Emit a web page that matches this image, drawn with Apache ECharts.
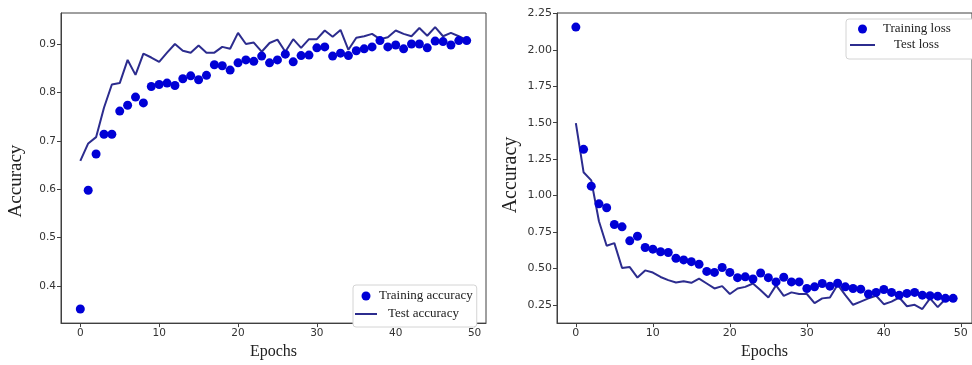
<!DOCTYPE html>
<html>
<head>
<meta charset="utf-8">
<script src="https://cdn.jsdelivr.net/npm/echarts@6/dist/echarts.min.js"></script>
<style>
html,body{margin:0;padding:0;background:#fff;}
#chart{width:972px;height:365px;}
</style>
</head>
<body>
<div id="chart"></div>
<script>
const epochs = [0,1,2,3,4,5,6,7,8,9,10,11,12,13,14,15,16,17,18,19,20,21,22,23,24,25,26,27,28,29,30,31,32,33,34,35,36,37,38,39,40,41,42,43,44,45,46,47,48,49];
const trainAcc = [0.352,0.598,0.673,0.714,0.714,0.762,0.774,0.791,0.779,0.813,0.817,0.820,0.815,0.829,0.835,0.827,0.836,0.858,0.856,0.847,0.862,0.868,0.865,0.876,0.862,0.868,0.880,0.864,0.877,0.878,0.893,0.895,0.876,0.882,0.877,0.887,0.891,0.895,0.908,0.895,0.899,0.891,0.901,0.901,0.893,0.907,0.906,0.899,0.908,0.908];
const testAcc = [0.659,0.695,0.708,0.769,0.817,0.820,0.868,0.837,0.881,0.873,0.864,0.883,0.901,0.887,0.883,0.898,0.883,0.883,0.895,0.891,0.924,0.901,0.904,0.885,0.903,0.910,0.885,0.911,0.893,0.911,0.911,0.929,0.916,0.930,0.889,0.914,0.917,0.922,0.911,0.915,0.929,0.922,0.917,0.934,0.918,0.936,0.917,0.924,0.917,0.909];
const trainLoss = [2.156,1.317,1.064,0.943,0.916,0.801,0.785,0.689,0.720,0.643,0.632,0.614,0.609,0.569,0.558,0.546,0.528,0.479,0.472,0.506,0.472,0.436,0.442,0.427,0.468,0.436,0.407,0.439,0.407,0.407,0.362,0.373,0.396,0.378,0.398,0.373,0.362,0.357,0.324,0.335,0.355,0.335,0.316,0.328,0.335,0.316,0.312,0.309,0.294,0.294];
const testLoss = [1.497,1.160,1.104,0.823,0.655,0.673,0.502,0.509,0.437,0.486,0.471,0.441,0.419,0.403,0.412,0.401,0.430,0.396,0.362,0.378,0.324,0.362,0.373,0.396,0.350,0.300,0.383,0.311,0.335,0.324,0.324,0.261,0.294,0.300,0.388,0.316,0.250,0.272,0.294,0.312,0.254,0.272,0.300,0.240,0.250,0.221,0.294,0.234,0.290,0.280];
const xTicks = [0,10,20,30,40,50];
const accTicks = [0.4,0.5,0.6,0.7,0.8,0.9];
const lossTicks = [0.25,0.5,0.75,1.0,1.25,1.5,1.75,2.0,2.25];

function pairs(xs, ys){ return xs.map((x,i)=>[x, ys[i]]); }
function extent(arrs){
  let mn = Infinity, mx = -Infinity;
  arrs.forEach(a=>a.forEach(v=>{ if(v<mn)mn=v; if(v>mx)mx=v; }));
  const m = (mx-mn)*0.05;
  return [mn-m, mx+m];
}
const xMin = epochs[0] - (epochs[epochs.length-1]-epochs[0])*0.05;
const xMax = epochs[epochs.length-1] + (epochs[epochs.length-1]-epochs[0])*0.05;
const accExt = extent([trainAcc, testAcc]);
const lossExt = extent([trainLoss, testLoss]);

const DOT = '#0000d6';
const LINE = '#2c2c8e';
const FRAME = '#404040';
const SERIF = '"Liberation Serif","DejaVu Serif",serif';
const SANS = '"DejaVu Sans",sans-serif';
const LINE_ICON = 'path://M0,0H22V2H0Z';

function xAxisCfg(gi, fs){
  return {
    type:'value', gridIndex:gi, min:xMin, max:xMax,
    name:'Epochs', nameLocation:'middle', nameGap:17,
    nameTextStyle:{fontFamily:SERIF, fontSize:16, color:'#222'},
    axisLine:{show:true, onZero:false, lineStyle:{color:FRAME, width:1}},
    axisTick:{show:true, length:4, customValues:xTicks, lineStyle:{color:FRAME}},
    axisLabel:{customValues:xTicks, fontFamily:SANS, fontSize:fs, color:'#333', margin:5},
    splitLine:{show:false}
  };
}
function yAxisCfg(gi, ext, ticks, dec, fs, nameSize, gap, pad){
  return {
    type:'value', gridIndex:gi, min:ext[0], max:ext[1],
    name:'Accuracy', nameLocation:'middle', nameGap:gap,
    nameTextStyle:{fontFamily:SERIF, fontSize:nameSize, color:'#222', padding:pad},
    axisLine:{show:true, onZero:false, lineStyle:{color:FRAME, width:1}},
    axisTick:{show:true, length:4, customValues:ticks, lineStyle:{color:FRAME}},
    axisLabel:{customValues:ticks, fontFamily:SANS, fontSize:fs, color:'#333', margin:5,
      formatter:v=>Number(v).toFixed(dec)},
    splitLine:{show:false}
  };
}

const chart = echarts.init(document.getElementById('chart'), null, {renderer:'canvas'});
chart.setOption({
  animation:false,
  backgroundColor:'#fff',
  grid:[
    {left:61, top:13, width:425, height:318, show:true, borderColor:FRAME, borderWidth:1, containLabel:false},
    {left:557, top:13, width:424, height:316, show:true, borderColor:FRAME, borderWidth:1, containLabel:false}
  ],
  xAxis:[xAxisCfg(0,10.5), xAxisCfg(1,11)],
  yAxis:[
    yAxisCfg(0, accExt, accTicks, 1, 10.5, 19, 35, [0,26,0,0]),
    yAxisCfg(1, lossExt, lossTicks, 2, 11, 20, 36, [0,14,0,0])
  ],
  legend:[
    {
      left:353, top:285, orient:'vertical', itemGap:4,
      itemWidth:22, itemHeight:9,
      padding:[4,4,6,2],
      backgroundColor:'#fff', borderColor:'#d4d4d4', borderWidth:1, borderRadius:3,
      textStyle:{fontFamily:SERIF, fontSize:13, color:'#222', lineHeight:14},
      data:[
        {name:'Training accuracy', icon:'circle', textStyle:{padding:[0,0,0,-3]}},
        {name:'Test accuracy', icon:LINE_ICON, textStyle:{padding:[0,0,0,6]}}
      ]
    },
    {
      left:846, top:19, orient:'vertical', itemGap:2,
      itemWidth:25, itemHeight:9,
      padding:[3,30,7,4],
      backgroundColor:'#fff', borderColor:'#d4d4d4', borderWidth:1, borderRadius:3,
      textStyle:{fontFamily:SERIF, fontSize:13, color:'#222', lineHeight:14},
      data:[
        {name:'Training loss', icon:'circle', textStyle:{padding:[0,0,0,3]}},
        {name:'Test loss', icon:'path://M0,0H25V2H0Z', textStyle:{padding:[0,0,0,14]}}
      ]
    }
  ],
  series:[
    {name:'Test accuracy', type:'line', xAxisIndex:0, yAxisIndex:0, data:pairs(epochs,testAcc),
      showSymbol:false, symbol:'none', lineStyle:{color:LINE, width:2}, itemStyle:{color:LINE}, z:2},
    {name:'Training accuracy', type:'scatter', xAxisIndex:0, yAxisIndex:0, data:pairs(epochs,trainAcc),
      symbolSize:9, itemStyle:{color:DOT, opacity:1}, z:3},
    {name:'Test loss', type:'line', xAxisIndex:1, yAxisIndex:1, data:pairs(epochs,testLoss),
      showSymbol:false, symbol:'none', lineStyle:{color:LINE, width:2}, itemStyle:{color:LINE}, z:2},
    {name:'Training loss', type:'scatter', xAxisIndex:1, yAxisIndex:1, data:pairs(epochs,trainLoss),
      symbolSize:9, itemStyle:{color:DOT, opacity:1}, z:3}
  ]
});
</script>
</body>
</html>
